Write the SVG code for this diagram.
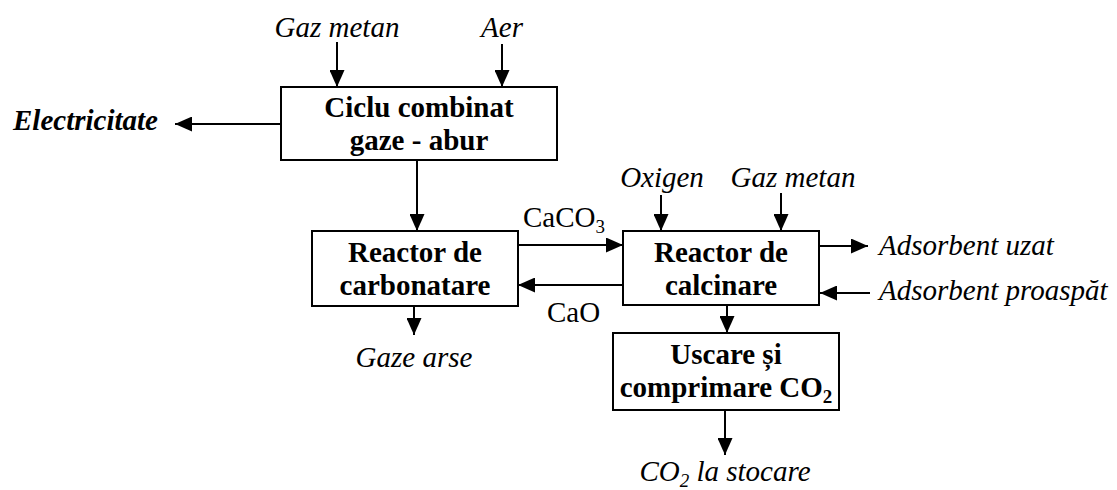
<svg xmlns="http://www.w3.org/2000/svg" width="1117" height="490" viewBox="0 0 1117 490">
<style>
.box{fill:#fff;stroke:#000;stroke-width:2}
text{font-family:'Liberation Serif','Times New Roman','DejaVu Serif',serif;font-size:29px;fill:#000}
.bt{font-weight:bold;text-anchor:middle}
.lb{font-style:italic}
.c{text-anchor:middle}
.ln{stroke:#000;stroke-width:2;fill:none;marker-end:url(#ah)}
</style>
<defs>
<marker id="ah" markerUnits="userSpaceOnUse" markerWidth="17" markerHeight="15" refX="17" refY="7.5" orient="auto" viewBox="0 0 17 15">
<path d="M0,0 L17,7.5 L0,15 z" fill="#000"/>
</marker>
</defs>
<rect width="1117" height="490" fill="#fff"/>

<g id="connectors">
<line class="ln" x1="337" y1="42" x2="337" y2="87"/>
<line class="ln" x1="502" y1="44" x2="502" y2="87"/>
<line class="ln" x1="281" y1="124" x2="175" y2="124"/>
<line class="ln" x1="417" y1="160" x2="417" y2="231"/>
<line class="ln" x1="518" y1="245" x2="623" y2="245"/>
<line class="ln" x1="623" y1="285" x2="518" y2="285"/>
<line class="ln" x1="414" y1="306" x2="414" y2="335"/>
<line class="ln" x1="661" y1="195" x2="661" y2="231"/>
<line class="ln" x1="781" y1="193" x2="781" y2="231"/>
<line class="ln" x1="819" y1="246" x2="868" y2="246"/>
<line class="ln" x1="870" y1="293" x2="820" y2="293"/>
<line class="ln" x1="727" y1="305" x2="727" y2="333"/>
<line class="ln" x1="725" y1="410" x2="725" y2="455"/>
</g>

<g id="ciclu">
<rect class="box" x="281" y="87" width="276" height="73"/>
<text class="bt" x="419" y="117" font-family="Liberation Serif, serif">Ciclu combinat</text>
<text class="bt" x="419" y="150" font-family="Liberation Serif, serif">gaze - abur</text>
</g>

<g id="carbonatare">
<rect class="box" x="312" y="231" width="206" height="75"/>
<text class="bt" x="415" y="262">Reactor de</text>
<text class="bt" x="415" y="295">carbonatare</text>
</g>

<g id="calcinare">
<rect class="box" x="623" y="231" width="196" height="74"/>
<text class="bt" x="721" y="262">Reactor de</text>
<text class="bt" x="721" y="295">calcinare</text>
</g>

<g id="uscare">
<rect class="box" x="613" y="333" width="226" height="77"/>
<text class="bt" x="726" y="364">Uscare și</text>
<text class="bt" x="726" y="397">comprimare CO<tspan font-size="19" dy="6">2</tspan></text>
</g>

<g id="labels">
<text class="lb c" x="337" y="37">Gaz metan</text>
<text class="lb c" x="502" y="37">Aer</text>
<text class="lb" x="13" y="130" font-weight="bold">Electricitate</text>
<text x="523" y="227">CaCO<tspan font-size="19" dy="6">3</tspan></text>
<text x="547" y="322">CaO</text>
<text class="lb c" x="414" y="367">Gaze arse</text>
<text class="lb c" x="662" y="187">Oxigen</text>
<text class="lb c" x="793" y="187">Gaz metan</text>
<text class="lb" x="879" y="255">Adsorbent uzat</text>
<text class="lb" x="879" y="300">Adsorbent proaspăt</text>
<text class="lb c" x="725" y="481">CO<tspan font-size="19" dy="6">2</tspan><tspan dy="-6"> la stocare</tspan></text>
</g>
</svg>
